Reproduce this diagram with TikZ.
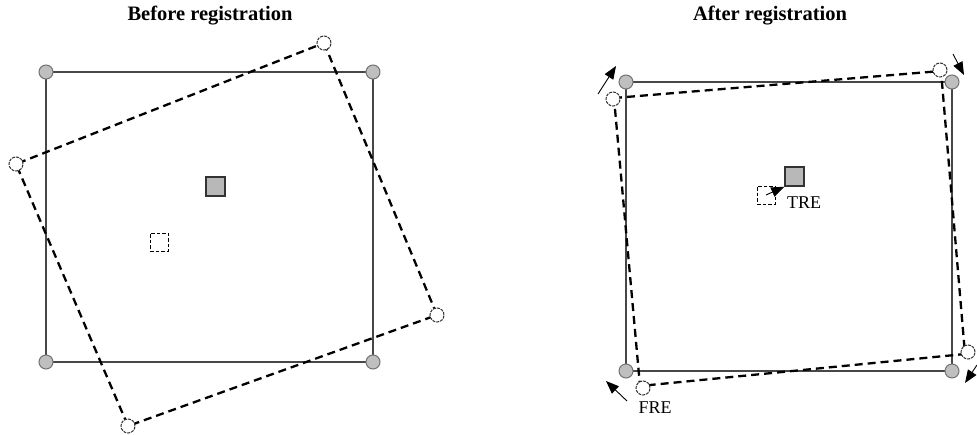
\documentclass[tikz,border=0pt]{standalone}
\usepackage{fontspec}
\setmainfont{Liberation Serif}
\usetikzlibrary{arrows.meta}
\begin{document}
\begin{tikzpicture}[x=1pt,y=-1pt,
  fixdot/.style={circle, draw=black!55, fill=black!25, inner sep=0pt, minimum size=14pt, line width=1pt},
  movdot/.style={circle, draw=black!80, fill=white, inner sep=0pt, minimum size=14pt, line width=1pt, dash pattern=on 3pt off 1pt},
  rectline/.style={draw=black!72, line width=1.4pt},
  dashline/.style={draw=black, line width=2.3pt, dash pattern=on 8pt off 5pt},
  target/.style={rectangle, draw=black!80, fill=black!28, minimum size=19pt, inner sep=0pt, line width=1.5pt},
  dtarget/.style={rectangle, draw=black, fill=white, dash pattern=on 3.5pt off 2pt, minimum size=18pt, inner sep=0pt, line width=1pt},
  err/.style={-{Triangle[length=13pt,width=10pt]}, line width=0.9pt},
  title/.style={font=\bfseries\fontsize{20.5}{24}\selectfont},
  lab/.style={font=\fontsize{18}{21}\selectfont}]
\useasboundingbox (0,0) rectangle (977,434);
\fill[white] (0,0) rectangle (977,434);

% titles
\node[title] (t1) at (210,16) {Before registration};
\node[title] (t2) at (770,16) {After registration};

% ---------- left panel ----------
\coordinate (a1) at (46,72);
\coordinate (a2) at (373,72);
\coordinate (a3) at (373,362);
\coordinate (a4) at (46,362);
\draw[rectline] (a1) -- (a2) -- (a3) -- (a4) -- cycle;

\coordinate (b1) at (324,43);
\coordinate (b2) at (437,315);
\coordinate (b3) at (128,426);
\coordinate (b4) at (16,164);
\draw[dashline] (b1) -- (b2) -- (b3) -- (b4) -- cycle;

\node[fixdot] (fa1) at (a1) {};
\node[fixdot] (fa2) at (a2) {};
\node[fixdot] (fa3) at (a3) {};
\node[fixdot] (fa4) at (a4) {};
\node[movdot] (ma1) at (b1) {};
\node[movdot] (ma2) at (b2) {};
\node[movdot] (ma3) at (b3) {};
\node[movdot] (ma4) at (b4) {};

\node[target] (sa) at (215.5,186.5) {};
\node[dtarget] (da) at (159,242) {};

% ---------- right panel ----------
\coordinate (c1) at (626,82);
\coordinate (c2) at (952,82);
\coordinate (c3) at (952,371);
\coordinate (c4) at (626,371);
\draw[rectline] (c1) -- (c2) -- (c3) -- (c4) -- cycle;

\coordinate (e1) at (614,98);
\coordinate (e2) at (941,71);
\coordinate (e3) at (965,354);
\coordinate (e4) at (640,386);
\draw[dashline] (e1) -- (e2) -- (e3) -- (e4) -- cycle;

\node[fixdot] (fb1) at (c1) {};
\node[fixdot] (fb2) at (c2) {};
\node[fixdot] (fb3) at (c3) {};
\node[fixdot] (fb4) at (c4) {};
\node[movdot] (mb1) at (613,99) {};
\node[movdot] (mb2) at (940,70) {};
\node[movdot] (mb3) at (968,352) {};
\node[movdot] (mb4) at (643,388) {};

\node[target] (sb) at (794.5,176.5) {};
\node[dtarget] (db) at (766,195) {};

% FRE arrows
\coordinate (q1) at (598,94);
\coordinate (h1) at (616,66);
\coordinate (q2) at (953,54);
\coordinate (h2) at (964,75);
\coordinate (q3) at (977,365);
\coordinate (h3) at (965,383);
\coordinate (q4) at (627,401);
\coordinate (h4) at (606,381);
\draw[err] (q1) -- (h1);
\draw[err] (q2) -- (h2);
\draw[err] (q3) -- (h3);
\draw[err] (q4) -- (h4);

% TRE arrow
\draw[err] (db.center) -- (sb.south west);

\node[lab] (tre) at (804,203) {TRE};
\node[lab] (fre) at (655,408) {FRE};
\end{tikzpicture}
\end{document}
